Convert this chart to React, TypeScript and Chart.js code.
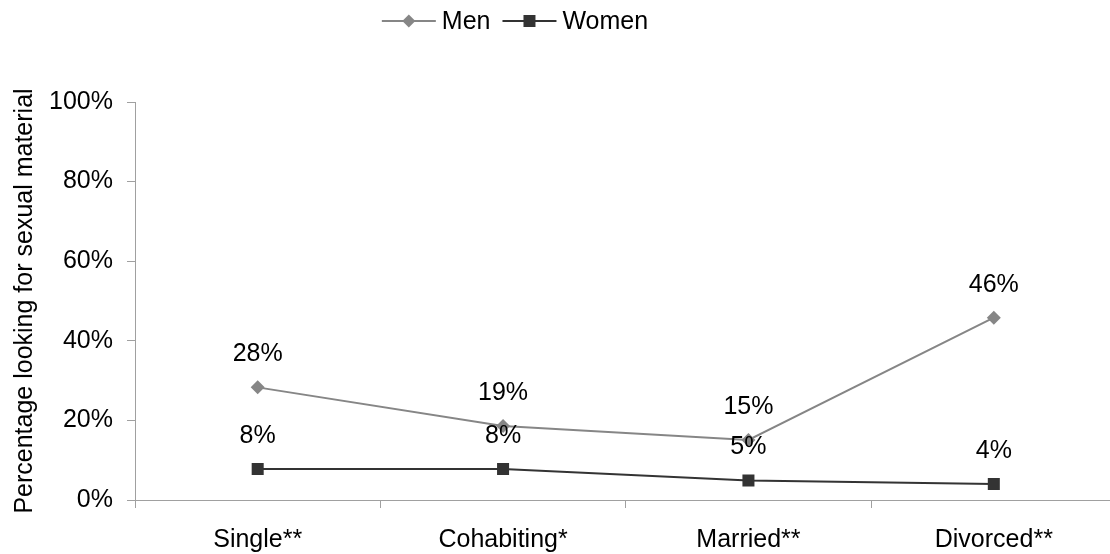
import React, { useEffect, useRef } from "react";
import { Chart, registerables } from "chart.js";

Chart.register(...registerables);

const categories = ["Single**", "Cohabiting*", "Married**", "Divorced**"];
const menValues = [28.3, 18.6, 15.1, 45.8];
const womenValues = [7.8, 7.8, 4.9, 4.0];
const menLabels = ["28%", "19%", "15%", "46%"];
const womenLabels = ["8%", "8%", "5%", "4%"];
const yTicks = [0, 20, 40, 60, 80, 100];

const FONT = "'Liberation Sans', Arial, sans-serif";
const FS = 25;
const MEN_COLOR = "#868686";
const WOMEN_COLOR = "#333333";
const AXIS_COLOR = "#a0a0a0";

const labelPlugin = {
  id: "pointLabels",
  afterDatasetsDraw(chart: any) {
    const ctx = chart.ctx;
    ctx.save();
    ctx.font = `${FS}px ${FONT}`;
    ctx.fillStyle = "#000";
    ctx.textAlign = "center";
    ctx.textBaseline = "middle";
    chart.data.datasets.forEach((ds: any, i: number) => {
      const meta = chart.getDatasetMeta(i);
      meta.data.forEach((pt: any, j: number) => {
        ctx.fillText(ds.valueLabels[j], pt.x, pt.y - 33);
      });
    });
    ctx.restore();
  },
};

const legendPlugin = {
  id: "customLegend",
  afterDraw(chart: any) {
    const ctx = chart.ctx;
    ctx.save();
    ctx.font = `${FS}px ${FONT}`;
    const items = chart.data.datasets.map((ds: any) => ({
      label: ds.label,
      color: ds.borderColor,
      style: ds.pointStyle,
      w: ctx.measureText(ds.label).width,
    }));
    const lineW = 54;
    const gap = 6;
    const itemGap = 12;
    let total = 0;
    items.forEach((it: any, i: number) => {
      total += lineW + gap + it.w + (i < items.length - 1 ? itemGap : 0);
    });
    let x = 515 - total / 2;
    const y = 21;
    items.forEach((it: any) => {
      ctx.strokeStyle = it.color;
      ctx.lineWidth = 2;
      ctx.beginPath();
      ctx.moveTo(x, y);
      ctx.lineTo(x + lineW, y);
      ctx.stroke();
      ctx.fillStyle = it.color;
      const cx = x + lineW / 2;
      ctx.beginPath();
      if (it.style === "rectRot") {
        const r = 6.5;
        ctx.moveTo(cx, y - r);
        ctx.lineTo(cx + r, y);
        ctx.lineTo(cx, y + r);
        ctx.lineTo(cx - r, y);
        ctx.closePath();
      } else {
        ctx.rect(cx - 6, y - 6, 12, 12);
      }
      ctx.fill();
      ctx.fillStyle = "#000";
      ctx.textAlign = "left";
      ctx.textBaseline = "middle";
      ctx.fillText(it.label, x + lineW + gap, y + 1);
      x += lineW + gap + it.w + itemGap;
    });
    ctx.restore();
  },
};

export default function App() {
  const ref = useRef<HTMLCanvasElement | null>(null);
  useEffect(() => {
    if (!ref.current) return;
    const chart = new Chart(ref.current, {
      type: "line",
      data: {
        labels: categories,
        datasets: [
          {
            label: "Men",
            data: menValues,
            valueLabels: menLabels,
            borderColor: MEN_COLOR,
            backgroundColor: MEN_COLOR,
            borderWidth: 2,
            pointStyle: "rectRot",
            pointRadius: 7,
            pointBorderWidth: 0,
            pointBackgroundColor: MEN_COLOR,
            tension: 0,
          } as any,
          {
            label: "Women",
            data: womenValues,
            valueLabels: womenLabels,
            borderColor: WOMEN_COLOR,
            backgroundColor: WOMEN_COLOR,
            borderWidth: 2,
            pointStyle: "rect",
            pointRadius: 8.5,
            pointBorderWidth: 0,
            pointBackgroundColor: WOMEN_COLOR,
            tension: 0,
          } as any,
        ],
      },
      options: {
        animation: false,
        responsive: false,
        maintainAspectRatio: false,
        layout: { padding: { top: 102, right: 2, bottom: 0, left: 0 } },
        plugins: {
          legend: { display: false },
          tooltip: { enabled: false },
        },
        scales: {
          x: {
            offset: true,
            afterFit: (s: any) => {
              s.height = 54;
            },
            grid: {
              offset: true,
              drawOnChartArea: false,
              drawTicks: true,
              tickLength: 8,
              color: AXIS_COLOR,
            },
            border: { display: true, color: AXIS_COLOR, width: 1 },
            ticks: {
              color: "#000",
              font: { family: FONT, size: FS },
              padding: 17,
              maxRotation: 0,
            },
          },
          y: {
            min: 0,
            max: 100,
            afterFit: (s: any) => {
              s.width = 135;
            },
            afterBuildTicks: (s: any) => {
              s.ticks = yTicks.map((v) => ({ value: v }));
            },
            grid: {
              drawOnChartArea: false,
              drawTicks: true,
              tickLength: 8,
              color: AXIS_COLOR,
            },
            border: { display: true, color: AXIS_COLOR, width: 1 },
            ticks: {
              color: "#000",
              font: { family: FONT, size: FS },
              padding: 14,
              callback: (v: any) => `${v}%`,
            },
            title: {
              display: true,
              text: "Percentage looking for sexual material",
              color: "#000",
              font: { family: FONT, size: FS },
              padding: { top: 10, bottom: 0 },
            },
          },
        },
      },
      plugins: [labelPlugin, legendPlugin],
    });
    return () => chart.destroy();
  }, []);
  return (
    <div
      style={{
        position: "fixed",
        left: 0,
        top: 0,
        width: 1110,
        height: 554,
        overflow: "hidden",
        background: "#fff",
      }}
    >
      <canvas ref={ref} width={1125} height={554} style={{ display: "block" }} />
    </div>
  );
}
